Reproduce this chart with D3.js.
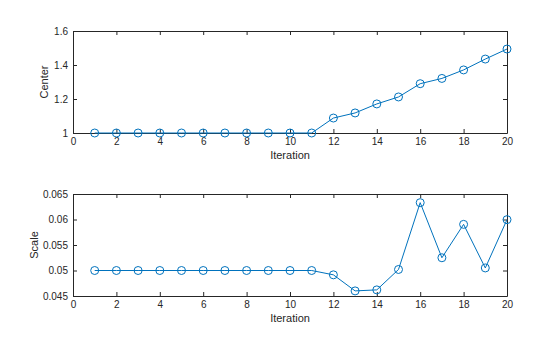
<!DOCTYPE html>
<html><head><meta charset="utf-8">
<script src="https://cdn.jsdelivr.net/npm/d3@7"></script>
<style>body{margin:0;background:#fff}svg{display:block}text{font-family:"Liberation Sans",Arial,sans-serif}</style>
</head><body><svg id="c" width="560" height="337"></svg>
<script>
const iterations = d3.range(1, 21);
const centerValues = [1,1,1,1,1,1,1,1,1,1,1,1.088,1.118,1.171,1.212,1.290,1.321,1.371,1.435,1.494];
const scaleValues = [0.05,0.05,0.05,0.05,0.05,0.05,0.05,0.05,0.05,0.05,0.05,0.04915,0.0460,0.0462,0.0502,0.0633,0.0525,0.05905,0.0505,0.05997];
const xTicks = [0,2,4,6,8,10,12,14,16,18,20];
const centerTicks = [1,1.2,1.4,1.6];
const scaleTicks = [0.045,0.05,0.055,0.06,0.065];

const svg = d3.select("#c");
const color = "#0072BD", axisColor = "#262626";
const left = 73, right = 507;

function panel(top, bottom, domain, ticks, vals, ylabel, ylabelX, fmt) {
  const x = d3.scaleLinear().domain([0,20]).range([left,right]);
  const y = d3.scaleLinear().domain(domain).range([bottom, top]);
  const g = svg.append("g");
  const tl = 4;
  const mk = (axis, tr) => {
    const a = g.append("g").attr("transform", tr).call(axis);
    a.select(".domain").attr("stroke", axisColor);
    a.selectAll(".tick line").attr("stroke", axisColor);
    a.selectAll("text").attr("fill", axisColor).attr("font-size", 10);
    return a;
  };
  mk(d3.axisBottom(x).tickValues(xTicks).tickSizeInner(-tl).tickSizeOuter(0).tickPadding(5), `translate(0,${bottom})`);
  mk(d3.axisTop(x).tickValues(xTicks).tickSizeInner(-tl).tickSizeOuter(0).tickFormat(""), `translate(0,${top})`);
  mk(d3.axisLeft(y).tickValues(ticks).tickSizeInner(-tl).tickSizeOuter(0).tickPadding(5).tickFormat(fmt), `translate(${left},0)`);
  mk(d3.axisRight(y).tickValues(ticks).tickSizeInner(-tl).tickSizeOuter(0).tickFormat(""), `translate(${right},0)`);
  const line = d3.line().x((d,i)=>x(iterations[i])).y(d=>y(d));
  g.append("path").datum(vals).attr("d", line).attr("fill","none").attr("stroke",color).attr("stroke-width",1);
  g.selectAll("circle.m").data(vals).join("circle").attr("class","m")
    .attr("cx",(d,i)=>x(iterations[i])).attr("cy",d=>y(d)).attr("r",4)
    .attr("fill","none").attr("stroke",color).attr("stroke-width",1);
  g.append("text").attr("x",(left+right)/2).attr("y",bottom+26).attr("text-anchor","middle")
    .attr("font-size",11).attr("fill",axisColor).text("Iteration");
  g.append("text").attr("transform",`translate(${ylabelX},${(top+bottom)/2}) rotate(-90)`)
    .attr("text-anchor","middle").attr("font-size",11).attr("fill",axisColor).text(ylabel);
}
panel(31, 133, [1,1.6], centerTicks, centerValues, "Center", 48, d=>d3.format("")(d));
panel(194, 296, [0.045,0.065], scaleTicks, scaleValues, "Scale", 38, d=>String(d));
</script></body></html>
